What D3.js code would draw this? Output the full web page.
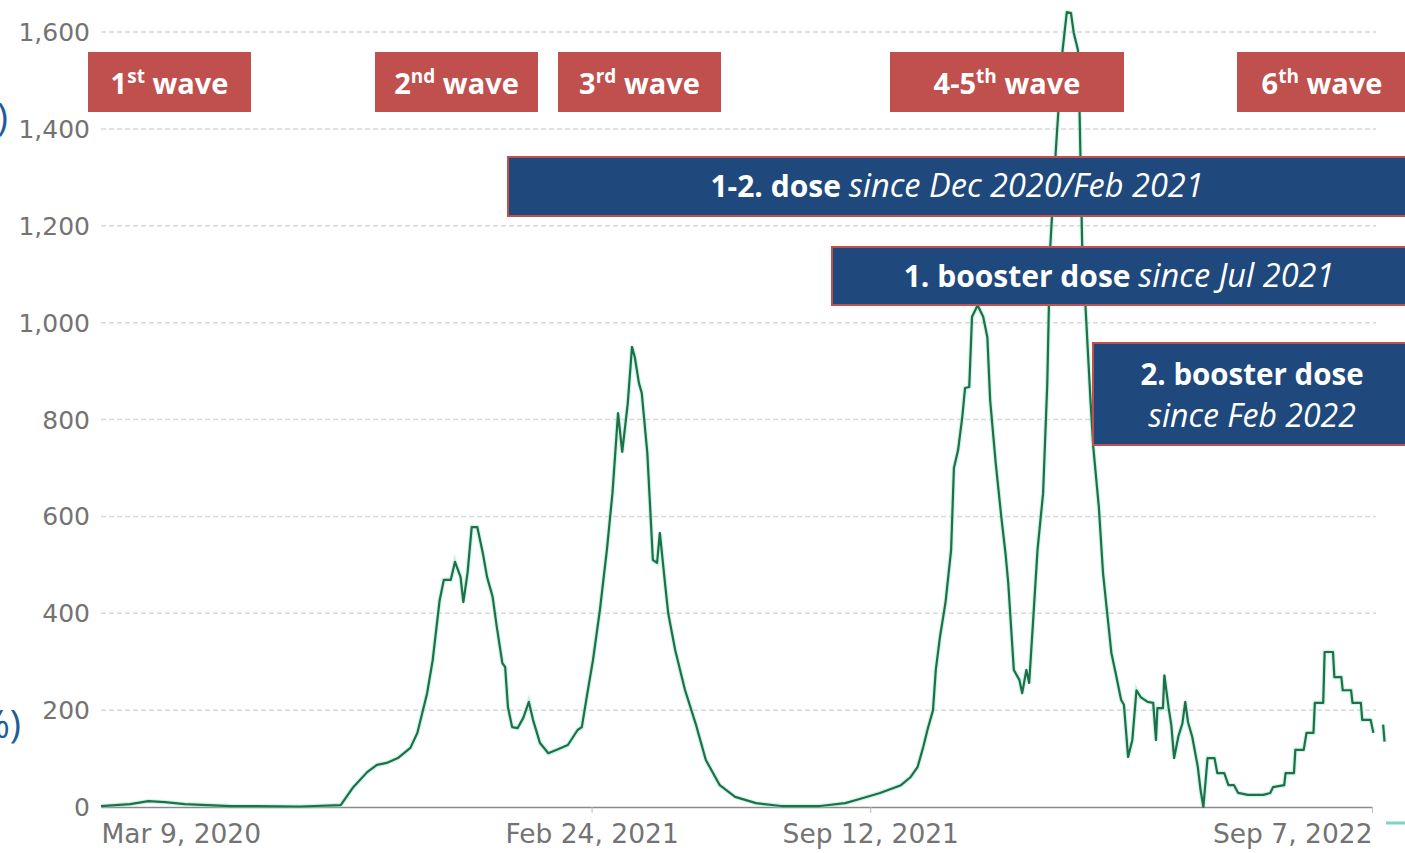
<!DOCTYPE html>
<html>
  <head>
    <meta charset="utf-8">
    <title>Hospital occupancy waves</title>
    <script src="https://d3js.org/d3.v7.min.js"></script>
    <style>
      body { margin: 0; background: #fff; }
      svg { display: block; }
    </style>
  </head>

  <body>
    <div class="chart"></div>

    <script>
      // days since Mar 9, 2020 and the value on that day (null = gap)
      var days = [0, 21, 34, 46, 60, 93, 143, 172, 181, 191, 198, 205, 213, 222, 227, 234, 238, 243, 246, 251,
        254, 258, 260, 263, 266, 270, 274, 277, 281, 284, 288, 290, 292, 295, 299, 303, 307, 310, 315, 321,
        327, 335, 342, 345, 349, 353, 358, 363, 367, 371, 374, 378, 381, 383, 386, 388, 392, 396, 399, 401,
        405, 407, 412, 419, 427, 434, 444, 455, 470, 488, 516, 534, 545, 559, 574, 581, 586, 590, 593, 597,
        599, 602, 606, 610, 612, 615, 618, 620, 623, 625, 629, 633, 636, 638, 642, 646, 649, 651, 655, 659,
        661, 664, 666, 669, 672, 676, 679, 681, 685, 687, 690, 693, 696, 698, 701, 702, 704, 710, 712, 716,
        719, 722, 725, 728, 732, 734, 737, 740, 743, 746, 751, 755, 757, 758, 762, 763, 766, 768, 770, 773,
        776, 778, 780, 783, 787, 789, 791, 794, 799, 801, 806, 809, 813, 816, 823, 834, 839, 841, 849, 850,
        856, 857, 863, 865, 870, 871, 877, 878, 884, 885, 890, 891, 897, 898, 904, 905, 911, 913, 916, 920, 921];
      var values = [2, 6, 12, 10, 6, 2, 1, 4, 41, 72, 87, 91, 101, 122, 153, 235, 303, 427, 469, 469,
        506, 475, 423, 483, 578, 578, 524, 475, 434, 372, 297, 289, 206, 165, 163, 184, 217, 180, 132, 111,
        118, 128, 159, 165, 235, 303, 407, 531, 648, 813, 733, 834, 950, 929, 875, 855, 731, 510, 504, 566,
        454, 400, 324, 242, 169, 97, 45, 21, 8, 2, 2, 8, 17, 29, 45, 62, 83, 124, 159, 200,
        283, 351, 423, 531, 700, 737, 805, 865, 867, 1012, 1036, 1012, 970, 840, 710, 599, 524, 462, 283, 262,
        235, 283, 256, 392, 531, 648, 875, 1150, 1350, 1439, 1563, 1641, 1639, 1598, 1563, 1460, 1164, 840, 743, 619,
        483, 400, 318, 277, 221, 211, 103, 138, 241, 227, 217, 215, 138, 204, 204, 272, 206, 169, 101, 145,
        173, 217, 175, 145, 83, 35, 0, 101, 101, 70, 70, 45, 45, 29, 25, 25, 29, 41, 45, 70,
        70, 118, 118, 153, 153, 215, 215, 320, 320, 268, 268, 241, 241, 215, 215, 180, 180, 153, null, 170, 135];

      var yTicks = [0, 200, 400, 600, 800, 1000, 1200, 1400, 1600];
      var xTickDates = ["2020-03-09", "2021-02-24", "2021-09-12", "2022-09-07"];
      var xTickLabels = ["Mar 9, 2020", "Feb 24, 2021", "Sep 12, 2021", "Sep 7, 2022"];

      var waveLabels = [["1", "st"], ["2", "nd"], ["3", "rd"], ["4-5", "th"], ["6", "th"]];
      var waveBoxes = [[88, 251], [375, 538], [558, 721], [890, 1124], [1237, 1410]];

      var doseBold = ["1-2. dose", "1. booster dose", "2. booster dose"];
      var doseItalic = ["since Dec 2020/Feb 2021", "since Jul 2021", "since Feb 2022"];

      var parse = d3.timeParse("%Y-%m-%d");
      var start = parse("2020-03-09");

      var data = days.map(function (d, i) {
        return { date: d3.timeDay.offset(start, d), value: values[i] };
      });

      var canvas = d3.select("div.chart").append("svg")
        .attr("width", 1405)
        .attr("height", 853)

      var x = d3.scaleTime()
        .domain([start, parse("2022-09-07")])
        .range([101, 1372]);

      var y = d3.scaleLinear()
        .domain([0, 1600])
        .range([807, 32]);

      var axisFont = "DejaVu Sans, Liberation Sans, sans-serif";

      //grid
      canvas.append("g")
        .selectAll("line")
        .data(yTicks.slice(1))
        .enter().append("line")
        .attr("x1", 101)
        .attr("x2", 1376)
        .attr("y1", function (d) { return y(d); })
        .attr("y2", function (d) { return y(d); })
        .attr("stroke", "#d9d9d9")
        .attr("stroke-width", 1.5)
        .attr("stroke-dasharray", "5,3")

      //y labels
      canvas.append("g")
        .selectAll("text")
        .data(yTicks)
        .enter().append("text")
        .attr("x", 90)
        .attr("y", function (d) { return y(d); })
        .attr("dy", "0.36em")
        .attr("text-anchor", "end")
        .attr("font-family", axisFont)
        .attr("font-size", 25)
        .attr("fill", "#737373")
        .text(function (d) { return d3.format(",")(d); })

      //x axis
      var xAxis = d3.axisBottom(x)
        .tickValues(xTickDates.map(parse))
        .tickSize(6)
        .tickSizeOuter(0)
        .tickFormat(function (d, i) { return xTickLabels[i]; });

      var gx = canvas.append("g")
        .attr("transform", "translate(0,807)")
        .call(xAxis);
      gx.select(".domain").attr("stroke", "#8a8a8a").attr("stroke-width", 1.5);
      gx.selectAll(".tick line").attr("stroke", "#bbb");
      gx.selectAll(".tick text")
        .attr("font-family", axisFont)
        .attr("font-size", 26.5)
        .attr("fill", "#737373")
        .attr("dy", "0.95em")
        .attr("y", 11)
        .attr("text-anchor", function (d, i) {
          return i === 0 ? "start" : (i === xTickLabels.length - 1 ? "end" : "middle");
        })
      gx.selectAll(".tick").filter(function (d, i) { return i === 0; }).select("line").remove();

      //line
      var line = d3.line()
        .defined(function (d) { return d.value != null; })
        .x(function (d) { return x(d.date); })
        .y(function (d) { return y(d.value); });

      canvas.append("path")
        .datum(data)
        .attr("d", line)
        .attr("fill", "none")
        .attr("stroke", "#8ee8c8")
        .attr("stroke-width", 4.5)
        .attr("stroke-opacity", 0.45)

      canvas.append("path")
        .datum(data)
        .attr("d", line)
        .attr("fill", "none")
        .attr("stroke", "#1f6f48")
        .attr("stroke-width", 2.2)
        .attr("stroke-linejoin", "round")

      //slider stub at right
      canvas.append("line")
        .attr("x1", 1386).attr("x2", 1405)
        .attr("y1", 823).attr("y2", 823)
        .attr("stroke", "#7fd3c4")
        .attr("stroke-width", 3)

      //cropped label at left
      canvas.append("text")
        .attr("x", 8).attr("y", 131)
        .attr("text-anchor", "end")
        .attr("font-family", "Open Sans, sans-serif")
        .attr("font-size", 38)
        .attr("fill", "#1f5c99")
        .text(")")
      canvas.append("text")
        .attr("x", 21).attr("y", 738)
        .attr("text-anchor", "end")
        .attr("font-family", "Open Sans, sans-serif")
        .attr("font-size", 38)
        .attr("fill", "#1f5c99")
        .text("%)")

      var boxFont = "'Open Sans', Lato, sans-serif";

      //wave boxes
      var waves = canvas.append("g")
        .selectAll("g")
        .data(waveBoxes)
        .enter().append("g");

      waves.append("rect")
        .attr("x", function (d) { return d[0]; })
        .attr("y", 52)
        .attr("width", function (d) { return d[1] - d[0]; })
        .attr("height", 60)
        .attr("fill", "#c0504d")

      var wt = waves.append("text")
        .attr("x", function (d, i) { return i === 4 ? 1322 : (d[0] + d[1]) / 2; })
        .attr("y", 94)
        .attr("text-anchor", "middle")
        .attr("font-family", boxFont)
        .attr("font-weight", "bold")
        .attr("font-size", 29)
        .attr("fill", "#fff")
      wt.append("tspan").text(function (d, i) { return waveLabels[i][0]; });
      wt.append("tspan").attr("font-size", 19).attr("dy", -11).text(function (d, i) { return waveLabels[i][1]; });
      wt.append("tspan").attr("dy", 11).text(" wave");

      //dose boxes
      var doseRects = [[508, 157, 902, 59], [832, 247, 578, 58], [1093, 343, 317, 102]];
      var doseCenters = [957, 1119, 1252];

      canvas.append("g")
        .selectAll("rect")
        .data(doseRects)
        .enter().append("rect")
        .attr("x", function (d) { return d[0]; })
        .attr("y", function (d) { return d[1]; })
        .attr("width", function (d) { return d[2]; })
        .attr("height", function (d) { return d[3]; })
        .attr("fill", "#1f497d")
        .attr("stroke", "#c0504d")
        .attr("stroke-width", 2)

      for (var i = 0; i < 2; i++) {
        var t = canvas.append("text")
          .attr("x", doseCenters[i])
          .attr("y", doseRects[i][1] + 40)
          .attr("text-anchor", "middle")
          .attr("font-family", boxFont)
          .attr("fill", "#fff")
        t.append("tspan").attr("font-weight", "bold").attr("font-size", 30).text(doseBold[i] + " ");
        t.append("tspan").attr("font-style", "italic").attr("font-size", 32.5).text(doseItalic[i]);
      }

      canvas.append("text")
        .attr("x", doseCenters[2])
        .attr("y", 385)
        .attr("text-anchor", "middle")
        .attr("font-family", boxFont)
        .attr("font-weight", "bold")
        .attr("font-size", 29.5)
        .attr("fill", "#fff")
        .text(doseBold[2])
      canvas.append("text")
        .attr("x", doseCenters[2])
        .attr("y", 427)
        .attr("text-anchor", "middle")
        .attr("font-family", boxFont)
        .attr("font-style", "italic")
        .attr("font-size", 32)
        .attr("fill", "#fff")
        .text(doseItalic[2])
    </script>

  </body>
</html>
